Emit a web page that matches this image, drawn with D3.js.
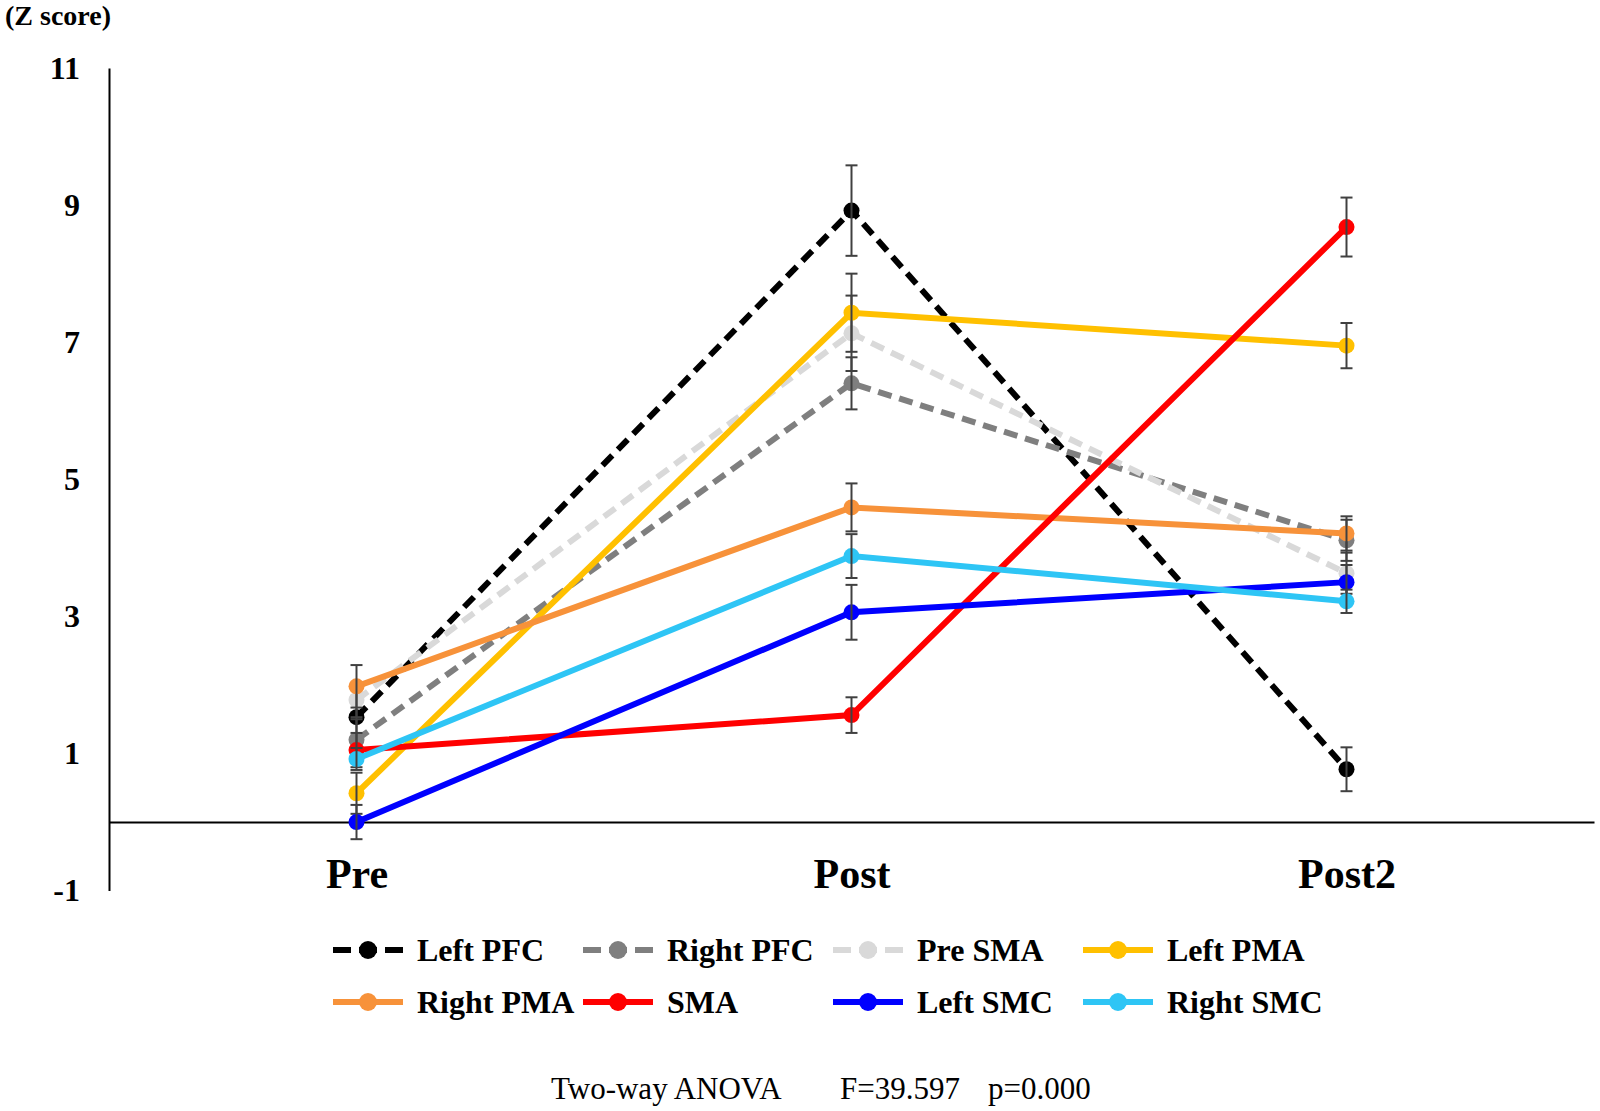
<!DOCTYPE html>
<html>
<head>
<meta charset="utf-8">
<script src="https://cdn.jsdelivr.net/npm/d3@7"></script>
<style>
  html, body { margin: 0; padding: 0; background: #fff; }
  svg { display: block; }
  text { font-family: "Liberation Serif", "DejaVu Serif", serif; }
</style>
</head>
<body>
<div id="chart"></div>
<script>
// Time points
const categories = ["Pre", "Post", "Post2"];

// Regions (legend order = draw order)
const seriesNames = ["Left PFC", "Right PFC", "Pre SMA", "Left PMA",
                     "Right PMA", "SMA", "Left SMC", "Right SMC"];

// Mean Z score at Pre / Post / Post2
const leftPFC  = [1.53, 8.92, 0.77];
const rightPFC = [1.20, 6.40, 4.11];
const preSMA   = [1.78, 7.13, 3.63];
const leftPMA  = [0.42, 7.43, 6.95];
const rightPMA = [1.98, 4.59, 4.21];
const sma      = [1.05, 1.56, 8.68];
const leftSMC  = [0.00, 3.06, 3.50];
const rightSMC = [0.92, 3.88, 3.22];

// Error bar half lengths
const leftPFCErr  = [0.30, 0.66, 0.32];
const rightPFCErr = [0.30, 0.38, 0.30];
const preSMAErr   = [0.25, 0.55, 0.30];
const leftPMAErr  = [0.30, 0.57, 0.33];
const rightPMAErr = [0.31, 0.35, 0.25];
const smaErr      = [0.25, 0.26, 0.43];
const leftSMCErr  = [0.25, 0.40, 0.25];
const rightSMCErr = [0.16, 0.32, 0.17];

const yTicks = [-1, 1, 3, 5, 7, 9, 11];

const values = [leftPFC, rightPFC, preSMA, leftPMA, rightPMA, sma, leftSMC, rightSMC];
const errors = [leftPFCErr, rightPFCErr, preSMAErr, leftPMAErr, rightPMAErr, smaErr, leftSMCErr, rightSMCErr];

// styling per series
const colors = ["#000000", "#7f7f7f", "#d9d9d9", "#ffc000",
                "#f7923a", "#ff0000", "#0000ff", "#2ec5f5"];
const dashed = [true, true, true, false, false, false, false, false];

const W = 1600, H = 1111;
const svg = d3.select("#chart").append("svg")
    .attr("width", W)
    .attr("height", H);

const x = d3.scalePoint()
    .domain(categories)
    .range([109, 1594])
    .padding(0.5);

const y = d3.scaleLinear()
    .domain([-1, 11])
    .range([890.6, 68]);

// y axis
const yAxis = svg.append("g")
    .attr("transform", "translate(109,0)")
    .call(d3.axisLeft(y).tickValues(yTicks).tickFormat(d => String(d)).tickSize(0).tickPadding(29));
yAxis.select(".domain").attr("stroke", "#000").attr("stroke-width", 2);
yAxis.selectAll("text")
    .attr("fill", "#000")
    .attr("font-size", 32)
    .attr("font-weight", "bold")
    .attr("font-family", "Liberation Serif, serif");

// x axis crossing at zero
const xAxis = svg.append("g")
    .attr("transform", `translate(0,${y(0)})`)
    .call(d3.axisBottom(x).tickSize(0).tickPadding(36));
xAxis.select(".domain").attr("stroke", "#000").attr("stroke-width", 2);
xAxis.selectAll("text")
    .attr("fill", "#000")
    .attr("font-size", 42)
    .attr("font-weight", "bold")
    .attr("font-family", "Liberation Serif, serif");

// axis title
svg.append("text")
    .attr("x", 5)
    .attr("y", 25)
    .attr("font-size", 28)
    .attr("font-weight", "bold")
    .text("(Z score)");

const series = seriesNames.map((name, i) => ({
    name,
    color: colors[i],
    dashed: dashed[i],
    points: categories.map((c, j) => ({ cat: c, v: values[i][j], e: errors[i][j] }))
}));

const line = d3.line()
    .x(d => x(d.cat))
    .y(d => y(d.v));

const plot = svg.append("g");

series.forEach(s => {
    const g = plot.append("g");

    g.append("path")
        .datum(s.points)
        .attr("d", line)
        .attr("fill", "none")
        .attr("stroke", s.color)
        .attr("stroke-width", 6)
        .attr("stroke-dasharray", s.dashed ? "14,8" : null);

    g.selectAll("circle")
        .data(s.points)
        .join("circle")
        .attr("cx", d => x(d.cat))
        .attr("cy", d => y(d.v))
        .attr("r", 8)
        .attr("fill", s.color);

    // error bars
    const eb = g.selectAll("g.err")
        .data(s.points)
        .join("g")
        .attr("class", "err")
        .attr("stroke", "#404040")
        .attr("stroke-width", 2);
    eb.append("line")
        .attr("x1", d => x(d.cat)).attr("x2", d => x(d.cat))
        .attr("y1", d => y(d.v + d.e)).attr("y2", d => y(d.v - d.e));
    eb.append("line")
        .attr("x1", d => x(d.cat) - 6).attr("x2", d => x(d.cat) + 6)
        .attr("y1", d => y(d.v + d.e)).attr("y2", d => y(d.v + d.e));
    eb.append("line")
        .attr("x1", d => x(d.cat) - 6).attr("x2", d => x(d.cat) + 6)
        .attr("y1", d => y(d.v - d.e)).attr("y2", d => y(d.v - d.e));
});

// legend, 4 columns x 2 rows
const legend = svg.append("g");
series.forEach((s, i) => {
    const col = i % 4, row = Math.floor(i / 4);
    const lx = 333 + col * 250;
    const ly = 950 + row * 52;
    const item = legend.append("g").attr("transform", `translate(${lx},${ly})`);
    item.append("line")
        .attr("x1", 0).attr("x2", 70)
        .attr("y1", 0).attr("y2", 0)
        .attr("stroke", s.color)
        .attr("stroke-width", 6)
        .attr("stroke-dasharray", s.dashed ? "18,8,18,8,18" : null);
    item.append("circle")
        .attr("cx", 35).attr("cy", 0).attr("r", 9)
        .attr("fill", s.color);
    item.append("text")
        .attr("x", 84)
        .attr("y", 11)
        .attr("font-size", 32)
        .attr("font-weight", "bold")
        .text(s.name);
});

// statistics note
const note = svg.append("g").attr("font-size", 31);
note.append("text").attr("x", 551).attr("y", 1099).text("Two-way ANOVA");
note.append("text").attr("x", 840).attr("y", 1099).text("F=39.597");
note.append("text").attr("x", 988).attr("y", 1099).text("p=0.000");
</script>
</body>
</html>
